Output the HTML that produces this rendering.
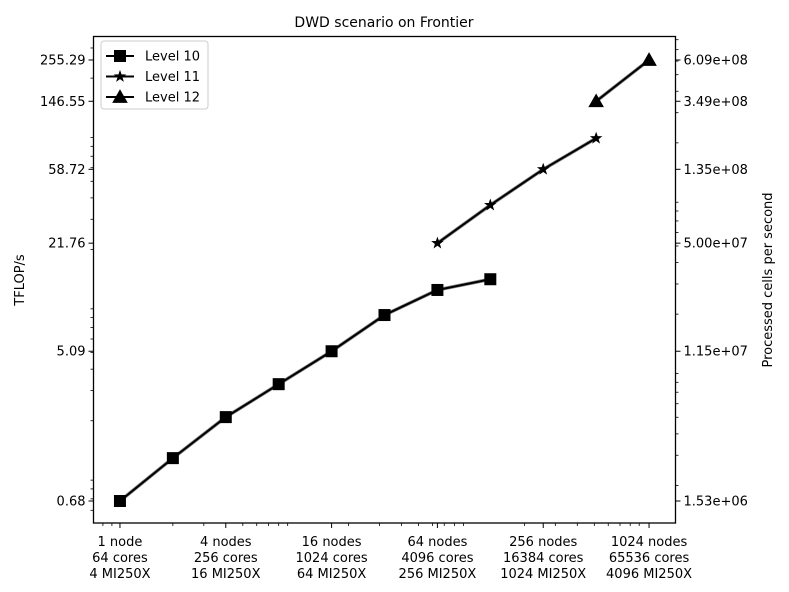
<!DOCTYPE html>
<html><head><meta charset="utf-8"><style>
body{margin:0;background:#fff;}
svg{display:block;font-family:"DejaVu Sans","Liberation Sans",sans-serif;}
</style></head><body>
<svg id="chart" width="789" height="592" viewBox="0 0 789 592">
<text x="384" y="27" text-anchor="middle" font-size="14">DWD scenario on Frontier</text>
<text transform="translate(24,280) rotate(-90)" text-anchor="middle" font-size="13">TFLOP/s</text>
<text transform="translate(772,280) rotate(-90)" text-anchor="middle" font-size="13">Processed cells per second</text>
<g id="ticks"></g>
<g id="series"></g>
<rect x="93.5" y="36.5" width="582" height="486.5" fill="none" stroke="#000" stroke-width="1.3"/>
<g id="legend">
<rect x="101" y="41" width="107" height="68" rx="3" fill="#fff" stroke="#ccc" stroke-width="1"/>
</g>
</svg>
<script>
const nodes10 = [1,2,4,8,16,32,64,128];
const tflops10 = [0.68,1.21,2.10,3.27,5.09,8.28,11.6,13.4];
const nodes11 = [64,128,256,512];
const tflops11 = [21.76,36.3,58.72,89.1];
const nodes12 = [512,1024];
const tflops12 = [146.55,255.29];
const leftTicks = [0.68,5.09,21.76,58.72,146.55,255.29];
const rightTickLabels = ["1.53e+06","1.15e+07","5.00e+07","1.35e+08","3.49e+08","6.09e+08"];
const xTickNodes = [1,4,16,64,256,1024];
const xTickLabels = [["1 node","64 cores","4 MI250X"],["4 nodes","256 cores","16 MI250X"],["16 nodes","1024 cores","64 MI250X"],["64 nodes","4096 cores","256 MI250X"],["256 nodes","16384 cores","1024 MI250X"],["1024 nodes","65536 cores","4096 MI250X"]];
const cellFactor = 2.386e6;

const NS="http://www.w3.org/2000/svg";
const X0=93.5,X1=675.5,Y0=36.5,Y1=523;
const xmin=Math.log2(1)-0.5, xmax=10.5;
function xs(n){return X0+(Math.log2(n)-xmin)/(xmax-xmin)*(X1-X0);}
const PPD=171.3;
function ys(v){return 501-PPD*Math.log10(v/0.68);}
const ylo=0.68/Math.pow(10,(Y1-501)/PPD), yhi=0.68*Math.pow(10,(501-Y0)/PPD);
function mk(tag,attrs,parent){const e=document.createElementNS(NS,tag);for(const k in attrs)e.setAttribute(k,attrs[k]);parent.appendChild(e);return e;}
const tg=document.getElementById('ticks');
// x ticks
xTickNodes.forEach((n,i)=>{
  const x=xs(n);
  const t=mk('line',{x1:x,x2:x,y1:Y1,y2:Y1+5,stroke:'#000','stroke-width':1},tg);
  
  
  const tx=mk('text',{x:x,'text-anchor':'middle','font-size':13},tg);
  
  
  xTickLabels[i].forEach((s,j)=>{const ts=mk('tspan',{x:x,y:546+j*16},tx);ts.textContent=s;});
});
// x minor ticks (base-10 subs)
for(let p=-1;p<=3;p++)for(let k=2;k<=9;k++){const n=k*Math.pow(10,p);const x=xs(n);if(x<X0||x>X1)continue;if(xTickNodes.some(m=>Math.abs(xs(m)-x)<1))continue;
  const t=mk('line',{x1:x,x2:x,y1:Y1,y2:Y1+3,stroke:'#000','stroke-width':0.8},tg);
  
  }
// y ticks
leftTicks.forEach((v,i)=>{
  const y=ys(v);
  const t=mk('line',{x1:X0-5,x2:X0,y1:y,y2:y,stroke:'#000','stroke-width':1},tg);
  
  
  const l=mk('text',{x:X0-8,y:y+4.5,'text-anchor':'end','font-size':13},tg);l.textContent=v.toFixed(2);
  
  
  const t2=mk('line',{x1:X1,x2:X1+5,y1:y,y2:y,stroke:'#000','stroke-width':1},tg);
  
  
  const r=mk('text',{x:X1+8,y:y+4.5,'font-size':13},tg);r.textContent=rightTickLabels[i];
  
  
});
for(let p=-2;p<=3;p++)for(let k=2;k<=9;k++){const v=k*Math.pow(10,p);if(v<ylo||v>yhi)continue;const y=ys(v);
  const t=mk('line',{x1:X0-3,x2:X0,y1:y,y2:y,stroke:'#000','stroke-width':0.8},tg);
  
  }
for(let p=5;p<=9;p++)for(let k=2;k<=9;k++){const v=k*Math.pow(10,p)/cellFactor;if(v<ylo||v>yhi)continue;const y=ys(v);
  const t=mk('line',{x1:X1,x2:X1+3,y1:y,y2:y,stroke:'#000','stroke-width':0.8},tg);
  
  }
// markers
function marker(type,x,y,parent,s){
  if(type==='square')return mk('rect',{x:x-s/2,y:y-s/2,width:s,height:s,fill:'#000'},parent);
  if(type==='triangle')return mk('polygon',{points:`${x},${y-s*0.6} ${x-s*0.6},${y+s*0.45} ${x+s*0.6},${y+s*0.45}`,fill:'#000'},parent);
  let pts=[];for(let i=0;i<10;i++){const r=i%2?s*0.22:s*0.55;const a=-Math.PI/2+i*Math.PI/5;pts.push((x+r*Math.cos(a)).toFixed(2)+','+(y+r*Math.sin(a)).toFixed(2));}
  return mk('polygon',{points:pts.join(' '),fill:'#000'},parent);
}
const sg=document.getElementById('series');
[[nodes10,tflops10,'square','level-10',12],[nodes11,tflops11,'star','level-11',12],[nodes12,tflops12,'triangle','level-12',13]].forEach(([xsA,ysA,m,name,s])=>{
  const g=mk('g',{},sg);
  
  
  const pts=xsA.map((n,i)=>xs(n)+','+ys(ysA[i])).join(' ');
  mk('polyline',{points:pts,fill:'none',stroke:'#888','stroke-width':3.5},g);
  const pl=mk('polyline',{points:pts,fill:'none',stroke:'#000','stroke-width':2},g);
  
  
  xsA.forEach((n,i)=>{const e=marker(m,xs(n),ys(ysA[i]),g,s);
    
    });
});
// legend
const lg=document.getElementById('legend');
[['Level 10','square',12],['Level 11','star',12],['Level 12','triangle',13]].forEach(([t,m,s],i)=>{
  const y=56+i*20.5;
  const g=mk('g',{},lg);
  
  
  mk('line',{x1:106,x2:134,y1:y,y2:y,stroke:'#000','stroke-width':2},g);
  marker(m,120,y,g,s);
  const tx=mk('text',{x:145,y:y+4.5,'font-size':13},g);tx.textContent=t;
});
</script>
</body></html>
